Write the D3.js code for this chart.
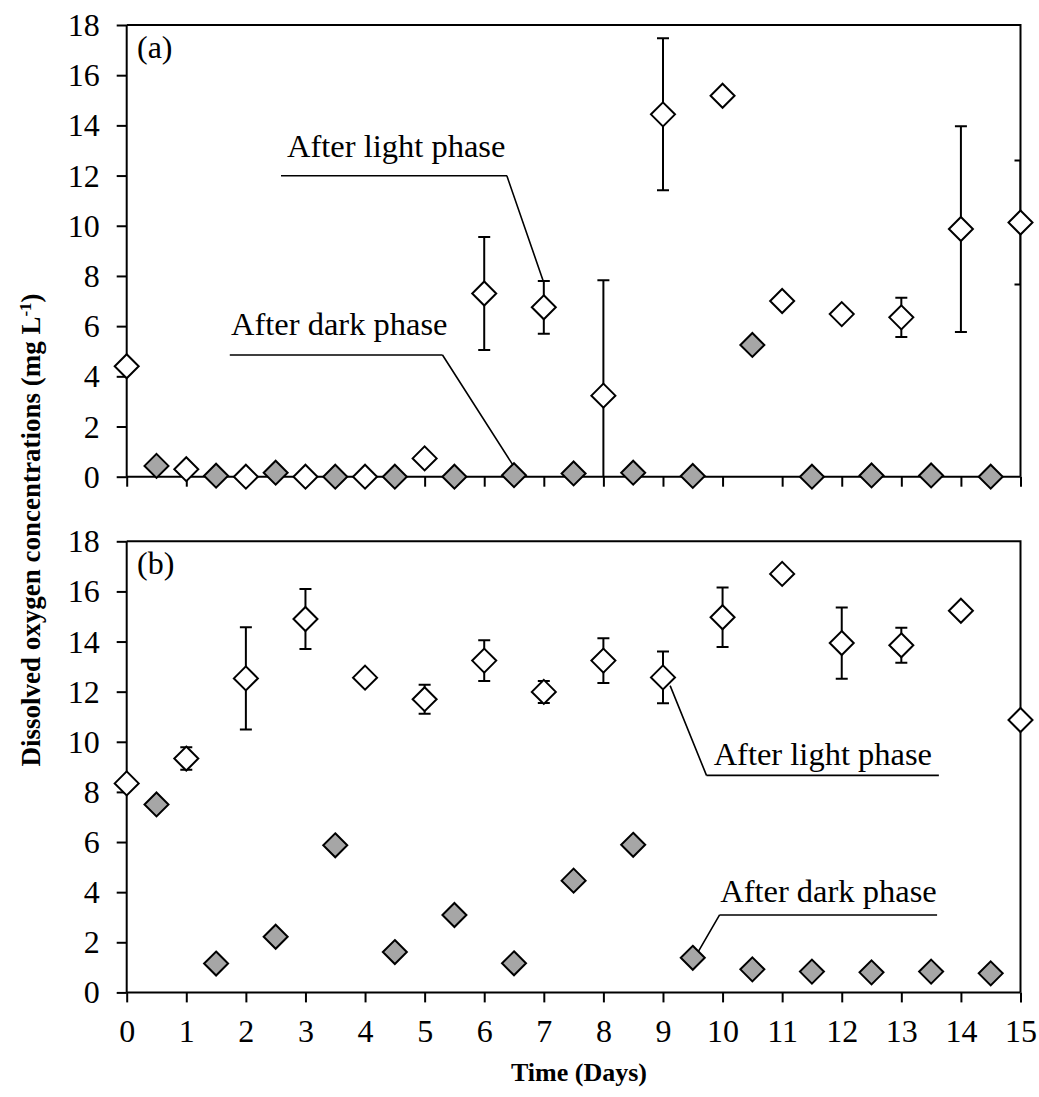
<!DOCTYPE html>
<html>
<head>
<meta charset="utf-8">
<script src="https://cdn.jsdelivr.net/npm/d3@7"></script>
<style>
  html, body { margin: 0; padding: 0; background: #fff; }
  svg { display: block; }
  text { font-family: "Liberation Serif", "Times New Roman", serif; fill: #000; }
</style>
</head>
<body>
<svg id="chart" width="1039" height="1097"></svg>
<script>
// Sampling times (days): light-phase readings on whole days, dark-phase readings half a day later
const lightDays = [0, 1, 2, 3, 4, 5, 6, 7, 8, 9, 10, 11, 12, 13, 14, 15];
const darkDays  = [0.5, 1.5, 2.5, 3.5, 4.5, 5.5, 6.5, 7.5, 8.5, 9.5, 10.5, 11.5, 12.5, 13.5, 14.5];

// Panel (a): dissolved oxygen (mg/L)
const lightA    = [4.4, 0.3, 0, 0, 0, 0.73, 7.3, 6.75, 3.23, 14.44, 15.18, 7.0, 6.48, 6.35, 9.87, 10.13];
const lightAErr = [0, 0, 0, 0, 0, 0, 2.25, 1.05, 4.6, 3.03, 0, 0, 0, 0.78, 4.1, 2.47];
const darkA     = [0.43, 0.04, 0.16, 0, 0, 0, 0.06, 0.13, 0.16, 0.03, 5.25, 0, 0.05, 0.05, 0];

// Panel (b): dissolved oxygen (mg/L)
const lightB    = [8.34, 9.33, 12.53, 14.9, 12.56, 11.7, 13.24, 11.99, 13.24, 12.57, 14.97, 16.7, 13.94, 13.85, 15.23, 10.87];
const lightBErr = [0, 0.45, 2.04, 1.2, 0, 0.58, 0.81, 0.44, 0.89, 1.03, 1.19, 0, 1.42, 0.7, 0, 0];
const darkB     = [7.5, 1.15, 2.22, 5.87, 1.61, 3.09, 1.16, 4.46, 5.89, 1.38, 0.92, 0.83, 0.8, 0.83, 0.76];

// Axis ticks and labels
const xTicks = d3.range(0, 16, 1);
const yTicks = d3.range(0, 19, 2);
const panelLabels = ["(a)", "(b)"];
const noteLight = "After light phase";
const noteDark  = "After dark phase";
const xTitle = "Time (Days)";
const yTitle = "Dissolved oxygen concentrations (mg L";

const svg = d3.select("#chart");

const x = d3.scaleLinear().domain([0, 15]).range([126.7, 1020.5]);

const panels = [
  {
    label: panelLabels[0], top: 25, bottom: 476.7, showXLabels: false,
    light: lightA, lightErr: lightAErr, dark: darkA,
    notes: [
      { text: noteLight, tx: 2.69, ty: 12.74, lx0: 2.59, lx1: 6.38, ly: 11.99, from: "end", px: 6.99, py: 7.8 },
      { text: noteDark,  tx: 1.75, ty: 5.65,  lx0: 1.73, lx1: 5.30, ly: 4.85,  from: "end", px: 6.48, py: 0.47 }
    ]
  },
  {
    label: panelLabels[1], top: 541.3, bottom: 992.4, showXLabels: true,
    light: lightB, lightErr: lightBErr, dark: darkB,
    notes: [
      { text: noteLight, tx: 9.85, ty: 9.07, lx0: 9.73, lx1: 13.63, ly: 8.66, from: "start", px: 9.12, py: 12.24 },
      { text: noteDark,  tx: 9.96, ty: 3.62, lx0: 9.95, lx1: 13.6,  ly: 3.09, from: "start", px: 9.59, py: 1.62 }
    ]
  }
];

const diamond = (cx, cy, r) => `M${cx},${cy - r}L${cx + r},${cy}L${cx},${cy + r}L${cx - r},${cy}Z`;

panels.forEach((p, i) => {
  const y = d3.scaleLinear().domain([0, 18]).range([p.bottom, p.top]);
  const g = svg.append("g");

  // clip for error bars
  const clipId = "plot-clip-" + i;
  svg.append("defs").append("clipPath").attr("id", clipId)
    .append("rect")
    .attr("x", x(0)).attr("y", y(18))
    .attr("width", x(15) - x(0)).attr("height", y(0) - y(18));

  // frame: top and right borders
  g.append("path")
    .attr("d", `M${x(0)},${y(18)}H${x(15)}V${y(0)}`)
    .attr("fill", "none").attr("stroke", "#000").attr("stroke-width", 2);

  // y axis
  const yAxis = g.append("g")
    .attr("transform", `translate(${x(0)},0)`)
    .call(d3.axisLeft(y).tickValues(yTicks).tickSize(10).tickPadding(17).tickFormat(d3.format("d")));
  yAxis.select(".domain").attr("stroke-width", 2).attr("d", `M0,${y(0)}V${y(18)}`);
  yAxis.selectAll(".tick line").attr("stroke-width", 2);
  yAxis.selectAll(".tick text")
    .attr("font-family", "Liberation Serif").attr("font-size", 32)
    .attr("dy", "0.33em");

  // x axis
  const xAxis = g.append("g")
    .attr("transform", `translate(0,${y(0)})`)
    .call(d3.axisBottom(x).tickValues(xTicks).tickSize(10).tickPadding(0)
      .tickFormat(p.showXLabels ? d3.format("d") : () => ""));
  xAxis.select(".domain").attr("stroke-width", 2).attr("d", `M${x(0)},0H${x(15)}`);
  xAxis.selectAll(".tick line").attr("stroke-width", 2);
  xAxis.selectAll(".tick text")
    .attr("font-family", "Liberation Serif").attr("font-size", 32)
    .attr("y", 50).attr("dy", 0);

  // panel label
  g.append("text")
    .attr("x", 137).attr("y", y(18) + 32.5)
    .attr("font-size", 32)
    .text(p.label);

  // annotations
  p.notes.forEach(n => {
    g.append("text")
      .attr("x", x(n.tx)).attr("y", y(n.ty))
      .attr("font-size", 32.5)
      .text(n.text);
    const ex = n.from === "end" ? x(n.lx1) : x(n.lx0);
    g.append("path")
      .attr("d", `M${x(n.lx0)},${y(n.ly)}H${x(n.lx1)}M${ex},${y(n.ly)}L${x(n.px)},${y(n.py)}`)
      .attr("fill", "none").attr("stroke", "#000").attr("stroke-width", 1.6);
  });

  // error bars for light-phase values
  const errData = lightDays.map((d, k) => ({ d, v: p.light[k], e: p.lightErr[k] })).filter(o => o.e > 0);
  const eb = g.append("g").attr("clip-path", `url(#${clipId})`)
    .attr("stroke", "#000").attr("stroke-width", 2).attr("fill", "none");
  eb.selectAll("path").data(errData).join("path")
    .attr("d", o => {
      const cx = x(o.d), y1 = y(o.v + o.e), y2 = y(o.v - o.e);
      return `M${cx},${y1}V${y2}M${cx - 6},${y1}H${cx + 6}M${cx - 6},${y2}H${cx + 6}`;
    });

  // dark-phase markers (grey diamonds)
  g.append("g").selectAll("path").data(darkDays.map((d, k) => ({ d, v: p.dark[k] }))).join("path")
    .attr("d", o => diamond(x(o.d), y(o.v), 12))
    .attr("fill", "#a6a6a6").attr("stroke", "#000").attr("stroke-width", 2);

  // light-phase markers (open diamonds)
  g.append("g").selectAll("path").data(lightDays.map((d, k) => ({ d, v: p.light[k] }))).join("path")
    .attr("d", o => diamond(x(o.d), y(o.v), 12))
    .attr("fill", "#fff").attr("stroke", "#000").attr("stroke-width", 2);
});

// axis titles
svg.append("text")
  .attr("x", 579).attr("y", 1080.7)
  .attr("text-anchor", "middle")
  .attr("font-size", 26).attr("font-weight", "bold")
  .text(xTitle);

const yt = svg.append("text")
  .attr("transform", "translate(40,530) rotate(-90)")
  .attr("text-anchor", "middle")
  .attr("font-size", 27).attr("font-weight", "bold");
yt.append("tspan").text(yTitle);
yt.append("tspan").attr("baseline-shift", "super").attr("font-size", 17).text("-1");
yt.append("tspan").text(")");
</script>
</body>
</html>
